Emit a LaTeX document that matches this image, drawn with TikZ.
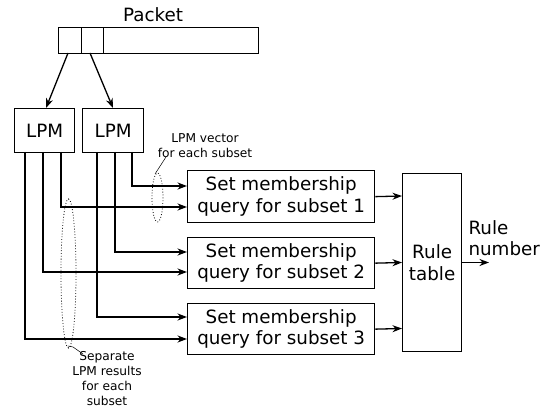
\documentclass[tikz,border=0pt]{standalone}
\usepackage{fontspec}
\setmainfont{DejaVu Sans}
\usetikzlibrary{arrows.meta}
\begin{document}
\begin{tikzpicture}[x=1pt,y=-1pt,
  box/.style={draw,line width=1.3pt,inner sep=0pt,anchor=north west},
  big/.style={font=\fontsize{18.3}{21.5}\selectfont,align=center},
  small/.style={font=\fontsize{12.2}{15.2}\selectfont,align=center},
  wire/.style={line width=1.3pt},
  arr/.style={wire,-{Stealth[length=9.5pt,width=7pt,inset=3pt]}},
  group/.style={draw,dotted,line width=0.8pt},
  leader/.style={draw,line width=0.5pt}]
\useasboundingbox (0,0) rectangle (557,409);
% packet header with its fields
\node[box,minimum width=200pt,minimum height=26pt] (pkt) at (58,27) {};
\node[box,minimum width=23pt,minimum height=26pt] (f1) at (58,27) {};
\node[box,minimum width=22pt,minimum height=26pt] (f2) at (81,27) {};
\node[big] (ptitle) at (153,15) {Packet};
% LPM engines
\node[box,minimum width=60pt,minimum height=44pt] (lpm1) at (14,108) {};
\node[big] at (lpm1.center) {LPM};
\node[box,minimum width=61pt,minimum height=44pt] (lpm2) at (82,108) {};
\node[big] at (lpm2.center) {LPM};
\draw[arr] (68,53) -- (46,108);
\draw[arr] (90,53) -- (113,108);
% set membership query blocks
\node[box,minimum width=187pt,minimum height=52pt] (q1) at (187,170) {};
\node[big] at (q1.center) {Set membership\\query for subset 1};
\node[box,minimum width=187pt,minimum height=51pt] (q2) at (187,237) {};
\node[big] at (q2.center) {Set membership\\query for subset 2};
\node[box,minimum width=187pt,minimum height=51pt] (q3) at (187,303) {};
\node[big] at (q3.center) {Set membership\\query for subset 3};
% rule table
\node[box,minimum width=59pt,minimum height=178pt] (rt) at (402,173) {};
\node[big] at (rt.center) {Rule\\table};
% LPM results to the query blocks
\draw[arr] (132,152) |- (187,186);
\draw[arr] (61,152) |- (187,207);
\draw[arr] (115,152) |- (187,252);
\draw[arr] (43,152) |- (187,272);
\draw[arr] (97,152) |- (187,317);
\draw[arr] (25,152) |- (187,339);
% query outputs into the rule table
\draw[arr] (q1.east) -- (402,196);
\draw[arr] (q2.east) -- (402,262.5);
\draw[arr] (q3.east) -- (402,328.5);
\coordinate (out) at (489,262.5);
\draw[arr] (461,262.5) -- (out);
\node[big,anchor=west,align=left] (rn) at (465,238) {Rule\\number};
% groupings and their labels
\draw[group] (157.5,197.5) ellipse (5.5 and 24.5);
\draw[group] (68.5,273.5) ellipse (7.5 and 74.5);
\node[small] (lv) at (205,145.5) {LPM vector\\for each subset};
\draw[leader] (155,174) -- (166,157);
\node[small] (sr) at (107,378.5) {Separate\\LPM results\\for each\\subset};
\draw[leader] (68,346) -- (73,347) -- (83,354);
\end{tikzpicture}
\end{document}
